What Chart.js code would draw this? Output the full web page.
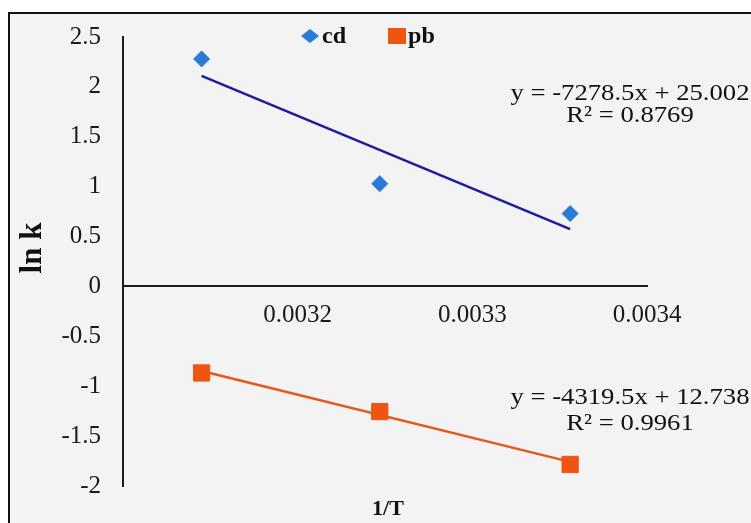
<!DOCTYPE html>
<html lang="en">
  <head>
    <meta charset="UTF-8" />
    <title>ln k vs 1/T</title>
    <script src="https://cdn.jsdelivr.net/npm/chart.js"></script>
    <style>
      body {
        margin: 0;
        background: #fff;
      }
      #wrap {
        width: 751px;
        height: 523px;
      }
    </style>
  </head>
  <body>
    <div id="wrap">
      <canvas id="arrhenius" width="751" height="523"></canvas>
    </div>

    <script>
      // 1/T values (298, 308 and 318 K) and ln k for each metal
      const invT = [0.003145, 0.003247, 0.003356];
      const cdLnK = [2.28, 1.03, 0.73];
      const pbLnK = [-0.867, -1.254, -1.784];

      // linear trendlines: [slope, intercept, R²]
      const cdFit = [-7278.5, 25.002, 0.8769];
      const pbFit = [-4319.5, 12.738, 0.9961];

      const xTicks = [0.0032, 0.0033, 0.0034];
      const seriesNames = ["cd", "pb"];

      const cdColor = "#2b7bd6";
      const cdLineColor = "#1c1c9c";
      const pbColor = "#ef5512";
      const pbLineColor = "#e9561b";

      const serif = '"Liberation Serif", "Times New Roman", serif';

      const points = (xs, ys) => xs.map((x, i) => ({ x, y: ys[i] }));
      const trend = (fit) =>
        [invT[0], invT[invT.length - 1]].map((x) => ({
          x,
          y: fit[0] * x + fit[1],
        }));

      const fmt = (n) => (n < 0 ? "-" + Math.abs(n) : String(n));
      const eqText = (fit) =>
        `y = ${fmt(fit[0])}x + ${fit[1].toFixed(3)}`;

      // text with slight horizontal widening
      function text(ctx, str, x, y, font, sx, align) {
        ctx.save();
        ctx.translate(x, y);
        ctx.scale(sx, 1);
        ctx.font = font;
        ctx.textAlign = align || "left";
        ctx.textBaseline = "alphabetic";
        ctx.fillStyle = "#111";
        ctx.fillText(str, 0, 0);
        ctx.restore();
      }

      const decorations = {
        id: "decorations",
        beforeDraw(chart) {
          const ctx = chart.ctx;
          ctx.save();
          ctx.fillStyle = "#fff";
          ctx.fillRect(0, 0, chart.width, chart.height);
          ctx.fillStyle = "#f3f3f3";
          ctx.fillRect(8, 12, chart.width, chart.height);
          ctx.strokeStyle = "#111";
          ctx.lineWidth = 2;
          ctx.beginPath();
          ctx.moveTo(9, chart.height + 5);
          ctx.lineTo(9, 13);
          ctx.lineTo(chart.width + 5, 13);
          ctx.stroke();
          ctx.restore();
        },
        afterDraw(chart) {
          const ctx = chart.ctx;

          // legend
          ctx.save();
          ctx.fillStyle = cdColor;
          ctx.beginPath();
          ctx.moveTo(301, 36);
          ctx.lineTo(310, 29);
          ctx.lineTo(319, 36);
          ctx.lineTo(310, 43);
          ctx.closePath();
          ctx.fill();
          ctx.fillStyle = pbColor;
          ctx.fillRect(388, 28, 18, 16);
          ctx.restore();
          text(ctx, seriesNames[0], 322, 43, "bold 23px " + serif, 1.05);
          text(ctx, seriesNames[1], 408, 43, "bold 23px " + serif, 1.05);

          // trendline equations
          const eqFont = "23px " + serif;
          text(ctx, eqText(cdFit), 630, 100, eqFont, 1.16, "center");
          text(ctx, "R² = " + cdFit[2], 630, 122, eqFont, 1.16, "center");
          text(ctx, eqText(pbFit), 630, 404, eqFont, 1.16, "center");
          text(ctx, "R² = " + pbFit[2], 630, 430, eqFont, 1.16, "center");

          // axis titles
          text(ctx, "1/T", 388, 515, "bold 22px " + serif, 1.0, "center");
          ctx.save();
          ctx.translate(41, 248);
          ctx.rotate(-Math.PI / 2);
          ctx.font = "bold 31px " + serif;
          ctx.textAlign = "center";
          ctx.fillStyle = "#111";
          ctx.fillText("ln k", 0, 0);
          ctx.restore();
        },
      };

      new Chart(document.getElementById("arrhenius"), {
        type: "scatter",
        data: {
          datasets: [
            {
              label: seriesNames[0],
              data: points(invT, cdLnK),
              pointStyle: "rectRot",
              pointRadius: 8,
              pointBackgroundColor: cdColor,
              pointBorderColor: cdColor,
              pointBorderWidth: 1,
              order: 1,
            },
            {
              label: seriesNames[1],
              data: points(invT, pbLnK),
              pointStyle: "rect",
              pointRadius: 11.5,
              pointBackgroundColor: pbColor,
              pointBorderColor: pbColor,
              pointBorderWidth: 1,
              order: 1,
            },
            {
              label: "cd trend",
              data: trend(cdFit),
              showLine: true,
              pointRadius: 0,
              borderColor: cdLineColor,
              borderWidth: 2.5,
              order: 2,
            },
            {
              label: "pb trend",
              data: trend(pbFit),
              showLine: true,
              pointRadius: 0,
              borderColor: pbLineColor,
              borderWidth: 2.5,
              order: 2,
            },
          ],
        },
        options: {
          responsive: false,
          animation: false,
          events: [],
          layout: { padding: { left: 0, right: 104, top: 34, bottom: 35.5 } },
          plugins: {
            legend: { display: false },
            tooltip: { enabled: false },
          },
          scales: {
            x: {
              type: "linear",
              min: 0.0031,
              max: 0.0034,
              position: { y: 0 },
              afterBuildTicks: (s) => {
                s.ticks = xTicks.map((v) => ({ value: v }));
              },
              grid: { display: false, drawTicks: false },
              border: { display: true, color: "#1a1a1a", width: 2 },
              ticks: {
                padding: 14,
                color: "#1a1a1a",
                font: { family: serif, size: 25 },
                maxRotation: 0,
                callback: (v) => Number(v).toFixed(4),
              },
            },
            y: {
              min: -2,
              max: 2.5,
              afterFit: (s) => {
                s.width = 123;
              },
              grid: { display: false, drawTicks: false },
              border: { display: true, color: "#1a1a1a", width: 2 },
              ticks: {
                stepSize: 0.5,
                padding: 22,
                color: "#1a1a1a",
                font: { family: serif, size: 25 },
                callback: (v) => String(v),
              },
            },
          },
        },
        plugins: [decorations],
      });
    </script>
  </body>
</html>
